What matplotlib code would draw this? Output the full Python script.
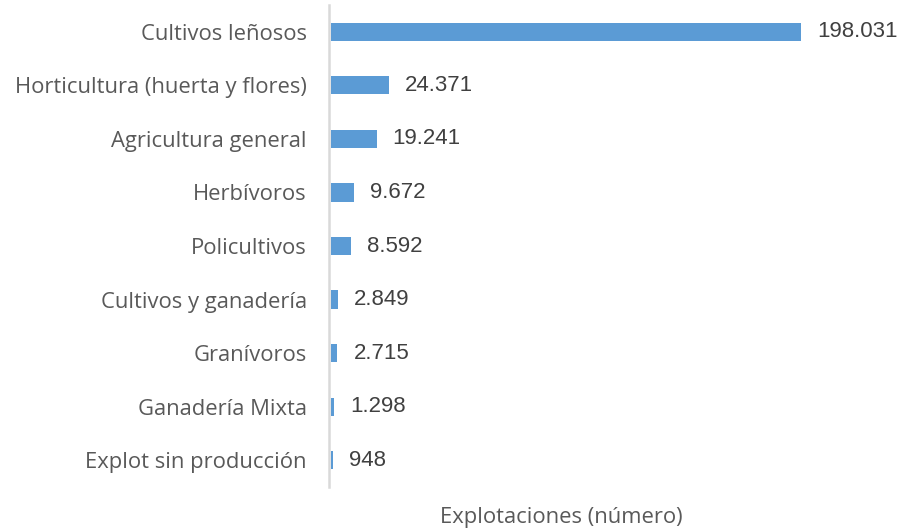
import matplotlib
matplotlib.use("Agg")
import matplotlib.pyplot as plt

categories = ["Cultivos leñosos", "Horticultura (huerta y flores)", "Agricultura general",
              "Herbívoros", "Policultivos", "Cultivos y ganadería", "Granívoros",
              "Ganadería Mixta", "Explot sin producción"]
values = [198031, 24371, 19241, 9672, 8592, 2849, 2715, 1298, 948]
xlabel = "Explotaciones (número)"

plt.rcParams['font.family'] = ['Open Sans', 'DejaVu Sans']
W, H = 899, 532
fig = plt.figure(figsize=(W/100, H/100), dpi=100)
left, right, top, bottom = 329, 880, 5, 487
ax = fig.add_axes([left/W, 1 - bottom/H, (right-left)/W, (bottom-top)/H])

lab_col = '#595959'
num_col = '#404040'
y = list(range(len(categories)))
ax.barh(y, values, height=0.34, color='#5B9BD5', zorder=3)
upp = 198031 / 470.0  # data units per pixel
ax.set_xlim(-2 * upp, (right - left - 2) * upp)
ax.set_ylim(len(categories) - 0.5, -0.5)
ax.set_yticks(y)
ax.set_yticklabels(categories, fontsize=15.8, color=lab_col)
ax.tick_params(axis='y', length=0, pad=16)
ax.set_xticks([])
for s in ['top', 'right', 'bottom']:
    ax.spines[s].set_visible(False)
ax.spines['left'].set_color('#d9d9d9')
ax.spines['left'].set_linewidth(1.8)

for yi, v in zip(y, values):
    lab = f"{v:,}".replace(",", ".")
    ax.annotate(lab, (v, yi), xytext=(16, 0), textcoords='offset pixels',
                va='center', ha='left', fontsize=16, color=num_col,
                family=['Liberation Sans', 'DejaVu Sans'])

fig.text(561/W, 1 - 518/H, xlabel, ha='center', va='center', fontsize=15.8, color=lab_col)
fig.savefig("out.png", dpi=100)
